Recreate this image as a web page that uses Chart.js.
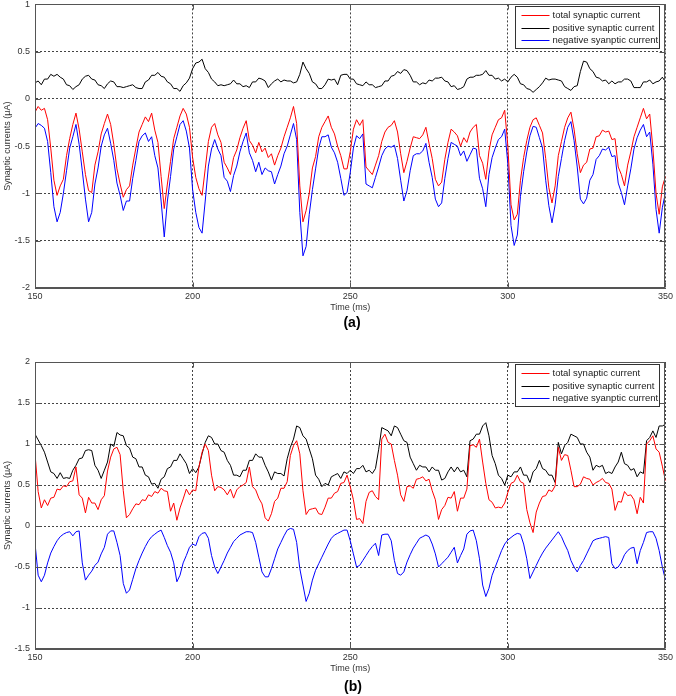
<!DOCTYPE html>
<html><head><meta charset="utf-8">
<script src="https://cdn.jsdelivr.net/npm/chart.js@4/dist/chart.umd.min.js"></script>
<style>
body{margin:0;width:676px;height:696px;overflow:hidden;background:#fff;position:relative;font-family:"Liberation Sans",Arial,sans-serif}
#ca{position:absolute;left:0;top:-6px}
#cb{position:absolute;left:0;top:350px}
.cap{position:absolute;width:40px;text-align:center;font-weight:bold;font-size:14px;color:#000;line-height:16px}
</style></head><body>
<canvas id="ca" width="676" height="324"></canvas>
<canvas id="cb" width="676" height="329"></canvas>
<div class="cap" style="left:332px;top:314px">(a)</div>
<div class="cap" style="left:333px;top:678px">(b)</div>
<script>
// ---- data ----
const time = [150,151,152,153,154,155,156,157,158,159,160,161,162,163,164,165,166,167,168,169,170,171,172,173,174,175,176,177,178,179,180,181,182,183,184,185,186,187,188,189,190,191,192,193,194,195,196,197,198,199,200,201,202,203,204,205,206,207,208,209,210,211,212,213,214,215,216,217,218,219,220,221,222,223,224,225,226,227,228,229,230,231,232,233,234,235,236,237,238,239,240,241,242,243,244,245,246,247,248,249,250,251,252,253,254,255,256,257,258,259,260,261,262,263,264,265,266,267,268,269,270,271,272,273,274,275,276,277,278,279,280,281,282,283,284,285,286,287,288,289,290,291,292,293,294,295,296,297,298,299,300,301,302,303,304,305,306,307,308,309,310,311,312,313,314,315,316,317,318,319,320,321,322,323,324,325,326,327,328,329,330,331,332,333,334,335,336,337,338,339,340,341,342,343,344,345,346,347,348,349,350];
const seriesNames = ["total synaptic current","positive synaptic current","negative syanptic current"];
const xTicks = [150,200,250,300,350];
const yTicksA = [-2,-1.5,-1,-0.5,0,0.5,1];
const yTicksB = [-1.5,-1,-0.5,0,0.5,1,1.5,2];

// panel (a)
const totalA = [-0.14,-0.08,-0.12,-0.1,-0.22,-0.52,-0.86,-1.02,-0.92,-0.85,
-0.6,-0.42,-0.27,-0.15,-0.32,-0.56,-0.8,-0.97,-0.99,-0.7,
-0.56,-0.37,-0.26,-0.16,-0.27,-0.48,-0.74,-0.9,-1.04,-0.96,
-0.92,-0.7,-0.52,-0.35,-0.27,-0.19,-0.24,-0.15,-0.33,-0.46,
-0.82,-1.16,-0.9,-0.66,-0.42,-0.3,-0.18,-0.1,-0.16,-0.3,
-0.62,-0.83,-0.95,-1.02,-0.74,-0.45,-0.3,-0.26,-0.38,-0.46,
-0.67,-0.73,-0.8,-0.62,-0.54,-0.41,-0.31,-0.23,-0.44,-0.49,
-0.57,-0.46,-0.56,-0.52,-0.62,-0.58,-0.7,-0.6,-0.52,-0.4,
-0.3,-0.2,-0.08,-0.26,-0.92,-1.3,-1.18,-1.0,-0.73,-0.61,
-0.4,-0.3,-0.24,-0.18,-0.3,-0.37,-0.5,-0.6,-0.74,-0.74,
-0.56,-0.32,-0.22,-0.28,-0.22,-0.72,-0.76,-0.8,-0.7,-0.6,
-0.45,-0.35,-0.3,-0.28,-0.23,-0.35,-0.58,-0.78,-0.66,-0.52,
-0.4,-0.41,-0.42,-0.38,-0.3,-0.47,-0.63,-0.85,-0.92,-0.88,
-0.64,-0.46,-0.32,-0.35,-0.39,-0.5,-0.41,-0.46,-0.35,-0.3,
-0.27,-0.6,-0.68,-0.85,-0.55,-0.38,-0.3,-0.22,-0.2,-0.12,
-0.5,-1.12,-1.28,-1.22,-0.86,-0.62,-0.44,-0.3,-0.22,-0.2,
-0.28,-0.36,-0.63,-0.94,-1.1,-0.92,-0.6,-0.45,-0.3,-0.2,
-0.14,-0.32,-0.58,-0.78,-0.7,-0.67,-0.53,-0.52,-0.4,-0.39,
-0.33,-0.35,-0.34,-0.43,-0.42,-0.72,-0.8,-0.92,-0.7,-0.56,
-0.4,-0.3,-0.2,-0.1,-0.21,-0.16,-0.52,-1.0,-1.22,-0.93,
-0.82];
const positiveA = [0.17,0.19,0.15,0.21,0.21,0.26,0.24,0.26,0.23,0.21,
0.15,0.14,0.1,0.13,0.15,0.21,0.24,0.25,0.21,0.2,
0.15,0.14,0.11,0.16,0.19,0.18,0.13,0.13,0.12,0.13,
0.14,0.15,0.12,0.11,0.11,0.18,0.2,0.25,0.25,0.28,
0.24,0.23,0.18,0.16,0.11,0.11,0.08,0.14,0.17,0.22,
0.32,0.38,0.39,0.42,0.32,0.28,0.21,0.18,0.14,0.15,
0.14,0.15,0.16,0.2,0.16,0.16,0.13,0.14,0.12,0.18,
0.18,0.22,0.21,0.19,0.12,0.16,0.19,0.21,0.18,0.2,
0.19,0.19,0.17,0.18,0.26,0.39,0.32,0.27,0.18,0.16,
0.11,0.11,0.15,0.21,0.2,0.21,0.15,0.25,0.26,0.26,
0.21,0.21,0.16,0.15,0.14,0.18,0.15,0.15,0.12,0.13,
0.14,0.19,0.19,0.24,0.25,0.29,0.27,0.31,0.3,0.25,
0.18,0.18,0.15,0.17,0.16,0.2,0.19,0.22,0.22,0.23,
0.19,0.18,0.13,0.14,0.1,0.11,0.13,0.21,0.23,0.23,
0.25,0.25,0.26,0.3,0.25,0.25,0.21,0.22,0.19,0.21,
0.18,0.23,0.26,0.23,0.16,0.15,0.11,0.1,0.07,0.1,
0.13,0.17,0.22,0.2,0.21,0.21,0.2,0.19,0.13,0.11,
0.09,0.13,0.14,0.29,0.4,0.39,0.32,0.29,0.23,0.22,
0.19,0.2,0.16,0.19,0.16,0.18,0.18,0.21,0.21,0.19,
0.12,0.12,0.12,0.18,0.18,0.2,0.16,0.18,0.19,0.23,
0.18];
const negativeA = [-0.31,-0.26,-0.28,-0.31,-0.45,-0.78,-1.14,-1.3,-1.2,-1.0,
-0.76,-0.52,-0.4,-0.27,-0.48,-0.76,-1.06,-1.3,-1.2,-0.9,
-0.73,-0.5,-0.38,-0.31,-0.47,-0.65,-0.89,-1.02,-1.18,-1.08,
-1.08,-0.84,-0.65,-0.45,-0.39,-0.36,-0.45,-0.4,-0.6,-0.73,
-1.08,-1.46,-1.08,-0.82,-0.53,-0.4,-0.27,-0.23,-0.34,-0.52,
-0.96,-1.2,-1.36,-1.42,-1.08,-0.71,-0.53,-0.43,-0.53,-0.6,
-0.83,-0.87,-0.98,-0.81,-0.71,-0.56,-0.45,-0.36,-0.57,-0.65,
-0.77,-0.67,-0.8,-0.73,-0.76,-0.77,-0.9,-0.8,-0.71,-0.58,
-0.5,-0.38,-0.26,-0.43,-1.2,-1.66,-1.56,-1.22,-0.96,-0.74,
-0.52,-0.4,-0.4,-0.38,-0.51,-0.57,-0.67,-0.84,-1.02,-0.99,
-0.78,-0.52,-0.39,-0.42,-0.37,-0.9,-0.92,-0.94,-0.83,-0.72,
-0.6,-0.53,-0.5,-0.51,-0.49,-0.63,-0.86,-1.08,-0.97,-0.76,
-0.6,-0.58,-0.58,-0.55,-0.47,-0.67,-0.83,-1.06,-1.14,-1.1,
-0.84,-0.63,-0.46,-0.48,-0.5,-0.6,-0.55,-0.66,-0.59,-0.52,
-0.53,-0.84,-0.95,-1.14,-0.8,-0.62,-0.52,-0.43,-0.4,-0.32,
-0.69,-1.34,-1.55,-1.44,-1.03,-0.77,-0.56,-0.39,-0.29,-0.3,
-0.41,-0.52,-0.86,-1.13,-1.31,-1.12,-0.82,-0.63,-0.44,-0.3,
-0.24,-0.44,-0.72,-1.06,-1.11,-1.05,-0.86,-0.8,-0.64,-0.6,
-0.53,-0.54,-0.51,-0.61,-0.6,-0.89,-0.99,-1.12,-0.92,-0.74,
-0.53,-0.41,-0.33,-0.27,-0.4,-0.35,-0.69,-1.17,-1.42,-1.15,
-0.99];

// panel (b)
const totalB = [0.88,0.42,0.22,0.32,0.25,0.34,0.35,0.45,0.44,0.49,
0.48,0.54,0.55,0.72,0.38,0.34,0.16,0.35,0.28,0.28,
0.2,0.32,0.37,0.67,0.84,0.94,0.96,0.87,0.43,0.1,
0.14,0.21,0.27,0.26,0.32,0.31,0.38,0.36,0.42,0.4,
0.46,0.43,0.42,0.18,0.28,0.07,0.22,0.33,0.45,0.38,
0.44,0.43,0.72,0.9,1.0,0.92,0.62,0.43,0.48,0.47,
0.44,0.38,0.45,0.34,0.44,0.48,0.5,0.53,0.72,0.48,
0.44,0.34,0.27,0.1,0.06,0.15,0.3,0.34,0.46,0.46,
0.54,0.86,0.98,1.04,0.88,0.43,0.14,0.2,0.21,0.22,
0.15,0.14,0.23,0.34,0.34,0.4,0.42,0.52,0.53,0.62,
0.48,0.32,0.08,0.09,0.03,0.3,0.41,0.43,0.36,0.32,
1.06,1.12,1.02,1.0,0.8,0.62,0.38,0.3,0.48,0.49,
0.46,0.57,0.58,0.6,0.55,0.57,0.43,0.32,0.08,0.2,
0.25,0.35,0.34,0.42,0.18,0.34,0.34,0.45,0.98,0.99,
0.96,1.06,0.78,0.52,0.32,0.29,0.22,0.23,0.22,0.28,
0.41,0.52,0.54,0.62,0.54,0.52,0.2,0.04,-0.08,0.17,
0.28,0.36,0.37,0.44,0.42,0.49,0.96,0.8,0.87,0.86,
0.68,0.48,0.48,0.51,0.6,0.58,0.57,0.5,0.53,0.55,
0.58,0.53,0.52,0.45,0.19,0.3,0.29,0.42,0.37,0.38,
0.32,0.15,0.35,0.28,1.0,1.04,1.1,0.94,0.9,0.73,
0.55];
const positiveB = [1.12,1.05,0.98,0.9,0.78,0.66,0.64,0.58,0.65,0.58,
0.59,0.58,0.68,0.74,0.82,0.83,0.92,0.93,0.92,0.74,
0.68,0.58,0.68,0.78,1.0,0.97,1.14,1.11,1.1,0.98,
0.95,0.84,0.82,0.72,0.72,0.62,0.6,0.51,0.52,0.46,
0.57,0.6,0.7,0.72,0.8,0.8,0.88,0.82,0.76,0.64,
0.7,0.65,0.72,0.88,1.02,1.1,1.08,1.0,1.0,0.92,
0.9,0.8,0.74,0.62,0.62,0.6,0.68,0.68,0.8,0.8,
0.88,0.84,0.84,0.74,0.66,0.56,0.66,0.64,0.64,0.61,
0.82,0.96,1.06,1.22,1.2,1.1,1.06,0.94,0.82,0.62,
0.57,0.48,0.52,0.5,0.6,0.62,0.64,0.58,0.66,0.64,
0.68,0.64,0.7,0.7,0.74,0.66,0.68,0.64,0.7,0.93,
1.2,1.18,1.16,1.1,1.22,1.2,1.12,1.04,1.02,0.84,
0.76,0.68,0.74,0.72,0.72,0.66,0.72,0.68,0.68,0.56,
0.58,0.66,0.72,0.66,0.72,0.66,0.68,0.6,1.04,1.06,
1.12,1.12,1.22,1.26,1.1,0.86,0.76,0.62,0.58,0.5,
0.62,0.6,0.66,0.66,0.72,0.62,0.62,0.53,0.66,0.7,
0.8,0.7,0.68,0.62,0.62,0.53,1.02,0.88,0.98,1.02,
1.12,1.1,1.08,1.0,1.0,0.9,0.84,0.68,0.74,0.72,
0.74,0.64,0.66,0.64,0.72,0.78,0.9,0.76,0.74,0.68,
0.7,0.6,0.66,0.64,1.04,1.08,1.16,1.08,1.22,1.22,
1.24];
const negativeB = [-0.21,-0.6,-0.68,-0.6,-0.45,-0.33,-0.25,-0.18,-0.13,-0.1,
-0.08,-0.07,-0.12,-0.07,-0.06,-0.45,-0.66,-0.6,-0.55,-0.48,
-0.44,-0.34,-0.26,-0.1,-0.06,-0.06,-0.2,-0.36,-0.7,-0.82,
-0.78,-0.65,-0.52,-0.42,-0.33,-0.25,-0.18,-0.13,-0.1,-0.07,
-0.05,-0.14,-0.24,-0.32,-0.45,-0.68,-0.6,-0.45,-0.36,-0.26,
-0.22,-0.24,-0.13,-0.09,-0.08,-0.15,-0.36,-0.5,-0.58,-0.5,
-0.42,-0.33,-0.26,-0.19,-0.15,-0.11,-0.09,-0.07,-0.07,-0.08,
-0.2,-0.38,-0.56,-0.62,-0.62,-0.52,-0.4,-0.28,-0.2,-0.12,
-0.05,-0.03,-0.04,-0.2,-0.52,-0.72,-0.92,-0.82,-0.66,-0.54,
-0.46,-0.38,-0.3,-0.22,-0.15,-0.11,-0.09,-0.07,-0.05,-0.05,
-0.18,-0.34,-0.5,-0.48,-0.42,-0.36,-0.3,-0.25,-0.21,-0.36,
-0.11,-0.1,-0.1,-0.18,-0.42,-0.58,-0.6,-0.56,-0.44,-0.35,
-0.27,-0.21,-0.15,-0.13,-0.11,-0.13,-0.22,-0.34,-0.5,-0.46,
-0.42,-0.38,-0.32,-0.26,-0.45,-0.36,-0.28,-0.1,-0.06,-0.05,
-0.18,-0.4,-0.72,-0.86,-0.76,-0.6,-0.5,-0.4,-0.3,-0.22,
-0.17,-0.14,-0.11,-0.09,-0.1,-0.22,-0.4,-0.64,-0.56,-0.48,
-0.4,-0.33,-0.27,-0.22,-0.17,-0.12,-0.07,-0.13,-0.22,-0.3,
-0.42,-0.5,-0.56,-0.48,-0.42,-0.34,-0.26,-0.18,-0.16,-0.15,
-0.14,-0.13,-0.14,-0.46,-0.52,-0.5,-0.44,-0.35,-0.3,-0.27,
-0.26,-0.46,-0.3,-0.2,-0.08,-0.07,-0.07,-0.15,-0.3,-0.5,
-0.66];

// ---- drawing ----
const colors = ["#ff0000","#000000","#0000ff"];
const FONT = "'Liberation Sans', Arial, sans-serif";

const framePlugin = {
  id: 'frame',
  afterDatasetsDraw(chart) {
    const {ctx, chartArea: a, scales: {x, y}} = chart;
    ctx.save();
    ctx.setLineDash([]);
    ctx.strokeStyle = '#555';
    ctx.lineWidth = 1;
    const L = Math.round(a.left) + 0.5, R = Math.round(a.right) - 0.5;
    const T = Math.round(a.top) + 0.5, B = Math.round(a.bottom) - 0.5;
    ctx.strokeRect(L, T, R - L, B - T);
    ctx.beginPath();
    x.ticks.forEach(t => {
      const px = Math.round(x.getPixelForValue(t.value)) + 0.5;
      ctx.moveTo(px, B); ctx.lineTo(px, B - 5);
      ctx.moveTo(px, T); ctx.lineTo(px, T + 5);
    });
    y.ticks.forEach(t => {
      const py = Math.round(y.getPixelForValue(t.value)) + 0.5;
      ctx.moveTo(L, py); ctx.lineTo(L + 5, py);
      ctx.moveTo(R, py); ctx.lineTo(R - 5, py);
    });
    ctx.stroke();
    // legend box
    const bw = 144, bh = 42;
    const bx = Math.round(a.right - 6 - bw) + 0.5, by = Math.round(a.top + 2) + 0.5;
    ctx.fillStyle = '#fff';
    ctx.fillRect(bx, by, bw, bh);
    ctx.strokeStyle = '#333';
    ctx.strokeRect(bx, by, bw, bh);
    ctx.font = "9.5px " + FONT;
    ctx.textBaseline = 'middle';
    ctx.textAlign = 'left';
    chart.data.datasets.forEach((d, i) => {
      const ry = Math.round(by + 8.5 + i * 12.7) + 0.5;
      ctx.strokeStyle = d.borderColor;
      ctx.beginPath(); ctx.moveTo(bx + 6, ry); ctx.lineTo(bx + 34, ry); ctx.stroke();
      ctx.fillStyle = '#222';
      ctx.fillText(d.label, bx + 37, ry);
    });
    ctx.restore();
  }
};

function makeChart(id, series, ticksY, padTop, padRight) {
  const datasets = series.map((s, i) => ({
    label: seriesNames[i],
    data: s.map((v, k) => ({x: time[k], y: v})),
    borderColor: colors[i],
    backgroundColor: colors[i],
    borderWidth: 1,
    pointRadius: 0,
    tension: 0,
    fill: false
  }));
  const gridOpts = {color: '#444', lineWidth: 1, drawTicks: false};
  const borderOpts = {display: true, color: '#555', dash: [2, 2]};
  return new Chart(document.getElementById(id), {
    type: 'line',
    data: {datasets},
    plugins: [framePlugin],
    options: {
      responsive: false,
      animation: false,
      events: [],
      layout: {padding: {top: padTop, right: padRight, left: 0, bottom: 0}},
      plugins: {legend: {display: false}, tooltip: {enabled: false}},
      scales: {
        x: {
          type: 'linear',
          min: xTicks[0], max: xTicks[xTicks.length - 1],
          afterBuildTicks: s => { s.ticks = xTicks.map(v => ({value: v})); },
          afterFit: s => { s.height = 30; },
          ticks: {padding: 3, color: '#333', font: {family: FONT, size: 9}, maxRotation: 0, callback: v => String(v)},
          grid: gridOpts,
          border: borderOpts,
          title: {display: true, text: 'Time (ms)', color: '#333', font: {family: FONT, size: 9}, padding: {top: 0, bottom: 5}}
        },
        y: {
          type: 'linear',
          min: ticksY[0], max: ticksY[ticksY.length - 1],
          afterBuildTicks: s => { s.ticks = ticksY.map(v => ({value: v})); },
          afterFit: s => { s.width = 35; },
          ticks: {padding: 5, color: '#333', font: {family: FONT, size: 9}, callback: v => String(v)},
          grid: gridOpts,
          border: borderOpts,
          title: {display: true, text: 'Synaptic currents (\u03bcA)', color: '#333', font: {family: FONT, size: 9}, padding: {top: 2, bottom: 0}}
        }
      }
    }
  });
}

makeChart('ca', [totalA, positiveA, negativeA], yTicksA, 9, 9);
makeChart('cb', [totalB, positiveB, negativeB], yTicksB, 12, 8);
</script>
</body></html>
